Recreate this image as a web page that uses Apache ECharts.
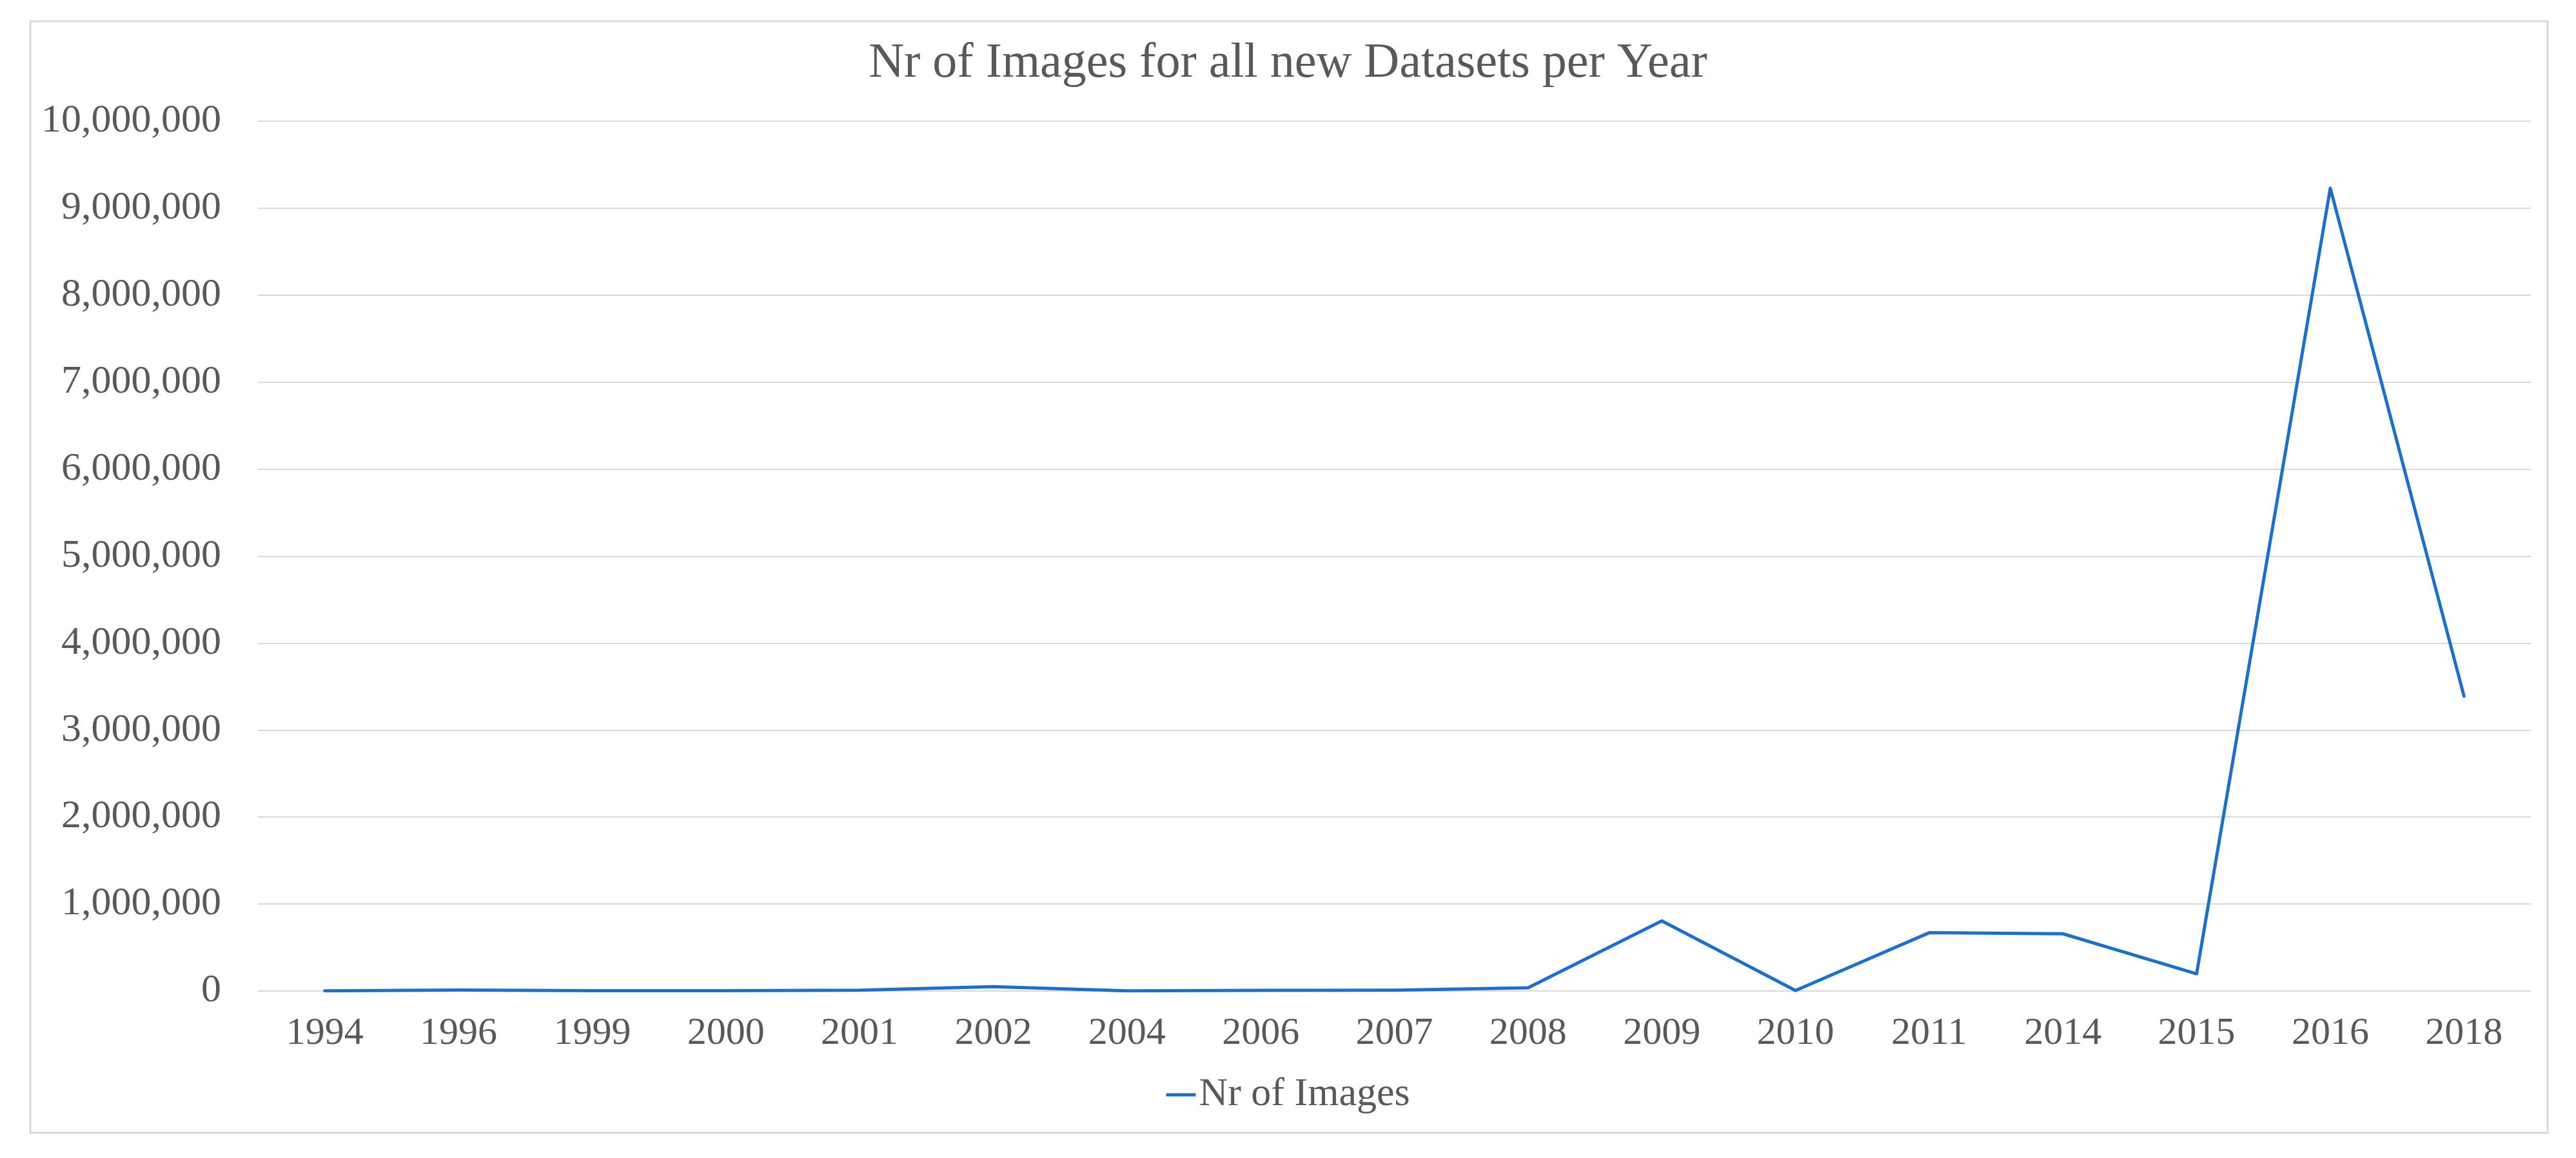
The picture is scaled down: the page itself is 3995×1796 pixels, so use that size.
<!DOCTYPE html>
<html>
<head>
<meta charset="utf-8">
<script src="https://cdn.jsdelivr.net/npm/echarts@6/dist/echarts.min.js"></script>
<style>
  html, body { margin: 0; padding: 0; background: #fff; }
  #chart { width: 3995px; height: 1796px; }
</style>
</head>
<body>
<div id="chart"></div>
<script>
const years = ['1994', '1996', '1999', '2000', '2001', '2002', '2004', '2006', '2007', '2008',
  '2009', '2010', '2011', '2014', '2015', '2016', '2018']
const nrOfImages = [2000, 12000, 3000, 4000, 10000, 50000, 2000, 8000, 10000, 37000,
  806000, 5000, 670000, 658000, 198000, 9230000, 3390000]

const textColor = '#595959'
const serif = '"Liberation Serif", "DejaVu Serif", serif'

const chart = echarts.init(document.getElementById('chart'))

const options = {
  backgroundColor: '#fff',
  animation: false,
  textStyle: { fontFamily: serif, color: textColor },
  title: {
    text: 'Nr of Images for all new Datasets per Year',
    left: 'center',
    top: 56,
    textStyle: { fontFamily: serif, fontSize: 76, fontWeight: 'normal', color: textColor }
  },
  graphic: [{
    type: 'rect',
    shape: { x: 47, y: 33, width: 3904, height: 1724 },
    style: { fill: 'none', stroke: '#d9d9d9', lineWidth: 3 },
    silent: true
  }],
  grid: { left: 400, right: 70, top: 188, bottom: 259 },
  legend: {
    bottom: 62,
    left: 'center',
    icon: 'rect',
    itemWidth: 46,
    itemHeight: 5,
    textStyle: { fontFamily: serif, fontSize: 62, color: textColor }
  },
  xAxis: {
    type: 'category',
    data: years,
    boundaryGap: true,
    axisLine: { show: false },
    axisTick: { show: false },
    axisLabel: { fontFamily: serif, fontSize: 60, color: textColor, margin: 36, interval: 0 }
  },
  yAxis: {
    type: 'value',
    min: 0,
    max: 10000000,
    interval: 1000000,
    axisLine: { show: false },
    axisTick: { show: false },
    axisLabel: {
      fontFamily: serif, fontSize: 62, color: textColor, margin: 57,
      formatter: v => v.toLocaleString('en-US')
    },
    splitLine: { lineStyle: { color: '#d9d9d9', width: 2 } }
  },
  series: [{
    name: 'Nr of Images',
    type: 'line',
    data: nrOfImages,
    showSymbol: false,
    lineStyle: { color: '#1f6fc6', width: 5, cap: 'round', join: 'round' },
    itemStyle: { color: '#1f6fc6' }
  }]
}

chart.setOption(options)
</script>
</body>
</html>
